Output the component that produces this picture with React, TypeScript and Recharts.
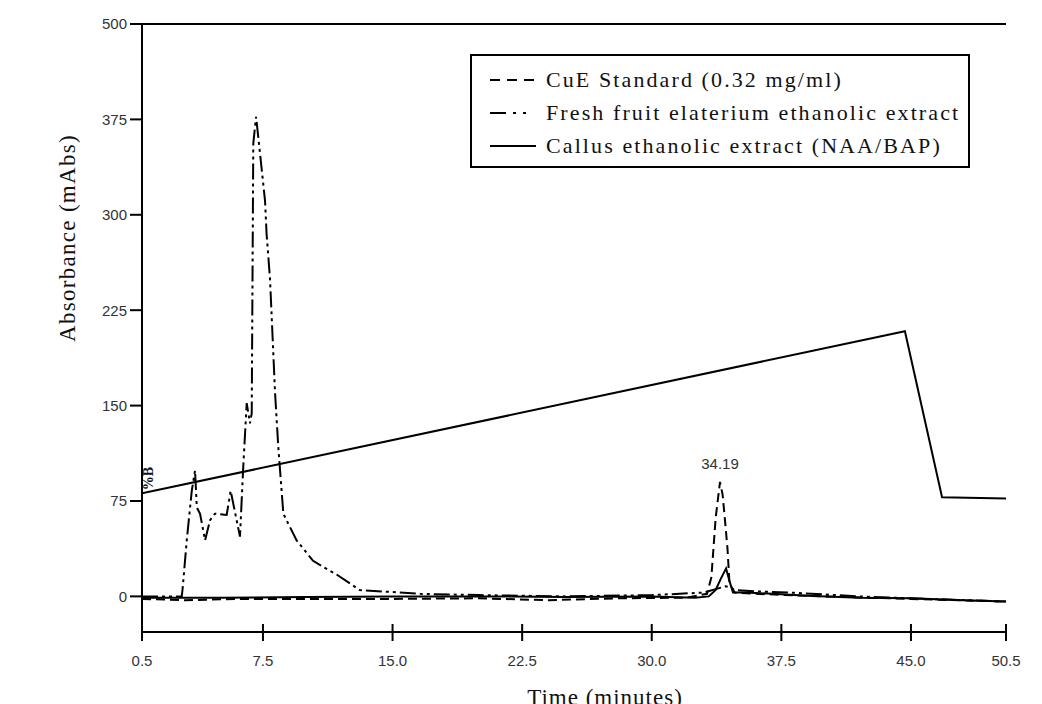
import { LineChart, Line, XAxis, YAxis, Legend, ReferenceDot, ReferenceLine } from 'recharts';

// chromatogram traces, time in minutes / absorbance in mAbs
const cueTime = [0.5, 3, 6, 10, 15, 20, 24, 28, 32, 33.2, 33.45, 33.7, 33.95, 34.1, 34.25, 34.38, 34.5, 34.8, 36, 40, 45, 50.5];
const cueAbs = [-2, -3, -2, -2, -2, -1.5, -3, -1.5, -1, 2, 15, 62, 90, 80, 58, 38, 10, 3, 2, 0, -2, -4];

const freshTime = [0.5, 2.8, 2.85, 3.09, 3.38, 3.57, 3.67, 3.86, 4.15, 4.44, 4.72, 5.4, 5.63, 6.17, 6.36, 6.56, 6.75, 6.85, 6.94, 7.1, 7.23, 7.62, 7.71, 7.91, 8.2, 8.39, 8.68, 8.97, 9.45, 10.4, 11.38, 11.67, 13.1, 16.6, 20, 25, 30, 33, 34.3, 34.8, 36, 38, 42, 46, 50.5];
const freshAbs = [0, 0, 6, 44, 83, 99, 70, 65, 44, 60, 65, 64, 83, 47, 102, 152, 136, 144, 356, 377, 361, 311, 285, 249, 160, 117, 65, 57, 44, 28, 20, 18, 5, 2, 1, 0, 1, 3, 8, 5, 4, 3, 0, -2, -4];

const callusTime = [0.5, 5, 10, 15, 20, 25, 30, 32.5, 33.3, 33.7, 34.0, 34.3, 34.5, 34.7, 35.5, 37, 39, 42, 45, 48, 50.5];
const callusAbs = [-1, -1, -0.5, 0, 0, -0.5, 0, -1, 0, 5, 14, 22, 12, 3, 3, 2, 0.5, -1, -1.5, -3, -4];

// %B gradient, drawn on the absorbance scale
const gradientTime = [0.5, 44.65, 46.8, 50.5];
const gradientB = [81, 208.5, 78, 77];

const xTicks = [0.5, 7.5, 15, 22.5, 30, 37.5, 45, 50.5];
const yTicks = [0, 75, 150, 225, 300, 375, 450];
const yTickLabels = ['0', '75', '150', '225', '300', '375', '500'];

const seriesNames = [
  'CuE Standard (0.32 mg/ml)',
  'Fresh fruit elaterium ethanolic extract',
  'Callus ethanolic extract (NAA/BAP)',
];
const legendDashes = ['10 7', '16 7 3 7 3 20', undefined];

const peakTime = 33.95;
const peakAbs = 90;
const peakLabel = '34.19';

const zip = (t: number[], v: number[]) => t.map((x, i) => ({ t: x, v: v[i] }));

const tickFont = '"Liberation Sans", Arial, sans-serif';
const serifFont = '"Liberation Serif", "Times New Roman", serif';

const XTick = ({ x, y, payload }: any) => (
  <g>
    <line x1={x} x2={x} y1={y - 8} y2={y + 9} stroke="#000" strokeWidth={2} />
    <text x={x} y={y + 34} textAnchor="middle" fill="#333" fontSize={15} fontFamily={tickFont}>
      {Number(payload.value).toFixed(1)}
    </text>
  </g>
);

const renderLegend = () => (
  <div
    style={{
      border: '2px solid #000',
      width: 500,
      height: 114,
      boxSizing: 'border-box',
      background: '#fff',
      paddingTop: 7,
      fontFamily: serifFont,
      fontSize: 22,
      letterSpacing: 2.1,
      color: '#111',
      whiteSpace: 'nowrap',
    }}
  >
    {seriesNames.map((name, i) => (
      <div key={name} style={{ display: 'flex', alignItems: 'center', height: 33 }}>
        <svg width={46} height={10} style={{ marginLeft: 18, marginRight: 10, flexShrink: 0 }}>
          <line x1={0} x2={46} y1={5} y2={5} stroke="#000" strokeWidth={2} strokeDasharray={legendDashes[i]} />
        </svg>
        <span>{name}</span>
      </div>
    ))}
  </div>
);

const renderPercentB = (props: any) => {
  const vb = props.viewBox || {};
  const x = (vb.x ?? vb.cx ?? 142) + 12;
  const y = (vb.y ?? vb.cy ?? 493) - 2;
  return (
    <text
      x={x}
      y={y}
      transform={`rotate(-90, ${x}, ${y})`}
      fontSize={14}
      fontWeight="bold"
      fontFamily={serifFont}
      fill="#111"
    >
      %B
    </text>
  );
};

export default function App() {
  return (
    <div style={{ width: 1042, height: 704, background: '#fff' }}>
      <style>{'body{margin:0;overflow:hidden;background:#fff}'}</style>
      <LineChart width={1042} height={704} margin={{ top: 24, right: 36, left: 0, bottom: 0 }}>
        <XAxis
          dataKey="t"
          type="number"
          domain={[0.5, 50.5]}
          ticks={xTicks}
          allowDataOverflow
          height={72}
          stroke="#000"
          strokeWidth={2}
          tickLine={false}
          tickSize={0}
          tickMargin={0}
          tick={<XTick />}
          interval={0}
          label={{
            value: 'Time (minutes)',
            position: 'insideBottom',
            offset: -1,
            dx: 31,
            style: { fontFamily: serifFont, fontSize: 23, fill: '#111', letterSpacing: 1 },
          }}
        />
        <YAxis
          type="number"
          domain={[-28, 450]}
          ticks={yTicks}
          allowDataOverflow
          width={142}
          stroke="#000"
          strokeWidth={2}
          tickSize={12}
          tickMargin={3}
          interval={0}
          tick={{ fill: '#333', fontSize: 15, fontFamily: tickFont }}
          tickFormatter={(v: number) => yTickLabels[yTicks.indexOf(v)]}
          label={{
            value: 'Absorbance (mAbs)',
            angle: -90,
            position: 'insideLeft',
            offset: 67,
            dy: -90,
            style: { textAnchor: 'middle', fontFamily: serifFont, fontSize: 23, fill: '#111', letterSpacing: 1.3 },
          }}
        />
        <YAxis yAxisId="right" orientation="right" type="number" domain={[0, 1]} width={0} tick={false} tickLine={false} stroke="#000" strokeWidth={2} />
        <ReferenceLine y={450} stroke="#000" strokeWidth={2} />
        <Legend
          layout="horizontal"
          verticalAlign="middle"
          align="center"
          content={renderLegend}
          wrapperStyle={{ left: 470, top: 54, width: 500, height: 114 }}
        />
        <Line
          data={zip(gradientTime, gradientB)}
          dataKey="v"
          name="%B"
          legendType="none"
          type="linear"
          stroke="#000"
          strokeWidth={2}
          dot={false}
          isAnimationActive={false}
        />
        <Line
          data={zip(cueTime, cueAbs)}
          dataKey="v"
          name={seriesNames[0]}
          type="linear"
          stroke="#000"
          strokeWidth={2}
          strokeDasharray="9 5"
          dot={false}
          isAnimationActive={false}
        />
        <Line
          data={zip(freshTime, freshAbs)}
          dataKey="v"
          name={seriesNames[1]}
          type="linear"
          stroke="#000"
          strokeWidth={2}
          strokeDasharray="16 4 3 4 3 4"
          dot={false}
          isAnimationActive={false}
        />
        <Line
          data={zip(callusTime, callusAbs)}
          dataKey="v"
          name={seriesNames[2]}
          type="linear"
          stroke="#000"
          strokeWidth={2}
          dot={false}
          isAnimationActive={false}
        />
        <ReferenceDot
          x={peakTime}
          y={peakAbs}
          r={0}
          fill="none"
          stroke="none"
          label={{ value: peakLabel, position: 'top', offset: 13, fill: '#333', fontSize: 15, fontFamily: tickFont }}
        />
        <ReferenceDot
          x={gradientTime[0]}
          y={gradientB[0]}
          r={1}
          fill="none"
          stroke="none"
          ifOverflow="visible"
          label={renderPercentB}
        />
      </LineChart>
    </div>
  );
}
